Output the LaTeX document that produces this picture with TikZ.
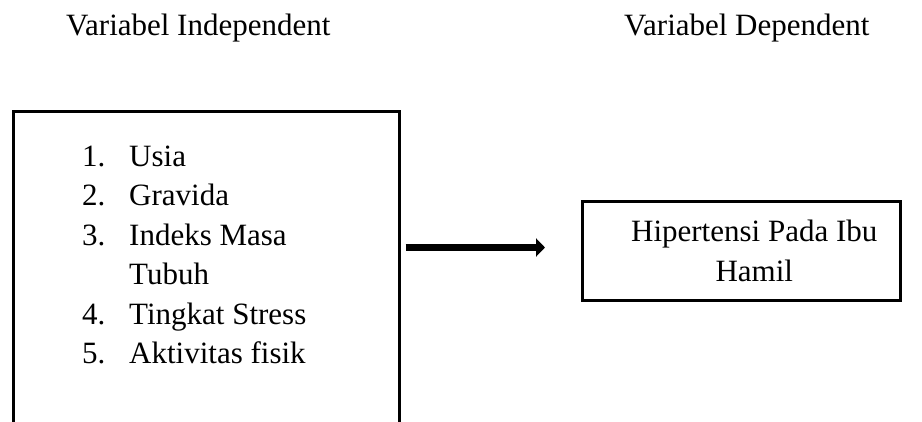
\documentclass[tikz,border=0pt]{standalone}
\usepackage{fontspec}
\setmainfont{Liberation Serif}
\usetikzlibrary{arrows.meta}
\begin{document}
\begin{tikzpicture}[x=1pt,y=-1pt,
  box/.style={draw, line width=2.5pt, inner sep=0pt},
  txt/.style={inner sep=0pt, font=\fontsize{31}{39.4}\selectfont},
  lbl/.style={txt, anchor=base west},
  arr/.style={line width=7pt, -{Triangle[length=9pt,width=18pt]}}]
\useasboundingbox (0,0) rectangle (922,421);
\clip (0,0) rectangle (922,421);
% headers
\node[lbl] (h1) at (66,35) {Variabel Independent};
\node[lbl] (h2) at (624,35) {Variabel Dependent};
% left box (runs past the bottom edge)
\node[box, anchor=north west, minimum width=386pt, minimum height=340pt] (indep) at (12,110) {};
\node[lbl] (i1) at (82,166)   {\makebox[47pt][l]{1.}Usia};
\node[lbl] (i2) at (82,205.5) {\makebox[47pt][l]{2.}Gravida};
\node[lbl] (i3) at (82,245)   {\makebox[47pt][l]{3.}Indeks Masa};
\node[lbl] (i3b) at (129,284.5) {Tubuh};
\node[lbl] (i4) at (82,324)   {\makebox[47pt][l]{4.}Tingkat Stress};
\node[lbl] (i5) at (82,363.5) {\makebox[47pt][l]{5.}Aktivitas fisik};
% right box
\node[box, anchor=north west, minimum width=318pt, minimum height=99pt] (dep) at (581,200) {};
\node[txt, align=center] (deptext) at ([xshift=13pt]dep.center) {Hipertensi Pada Ibu\\Hamil};
% arrow
\draw[arr] ([xshift=5pt]indep.east |- 0,247.5) -- ([xshift=-36pt]dep.west |- 0,247.5);
\end{tikzpicture}
\end{document}
